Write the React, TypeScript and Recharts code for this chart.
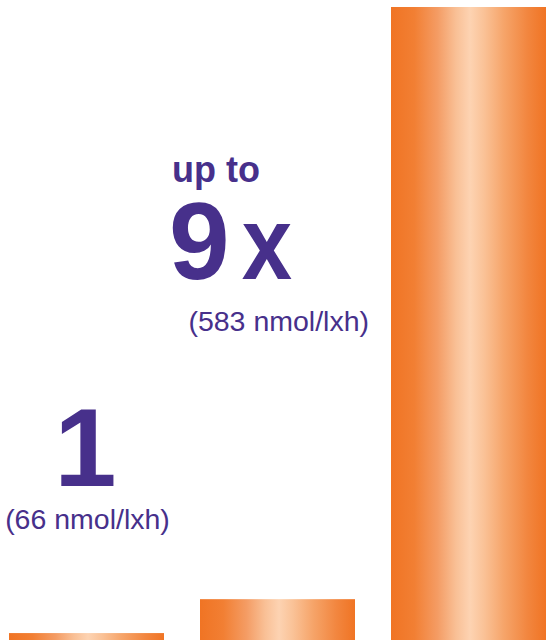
import React from 'react';
import { BarChart, Bar, XAxis, YAxis } from 'recharts';

const categories = ['Baseline', 'Middle', 'Peak'];
const values = [66, 94, 583];
const labelPrefix = ['', '', 'up to'];
const labelBig = ['1', '', '9'];
const labelSuffix = ['', '', 'x'];
const labelSub = ['(66 nmol/lxh)', '', '(583 nmol/lxh)'];

const data = categories.map((c, i) => ({ name: c, value: values[i] }));

const PURPLE = '#47308B';
const FONT = '"Liberation Sans", Arial, Helvetica, sans-serif';

const BarShape = (props: any) => {
  const { x, y, width, height, index } = props;
  const cx = x + width / 2;
  return (
    <g>
      <rect x={x} y={y} width={width} height={height} fill="url(#barGrad)" />
      {index === 0 && (
        <g fontFamily={FONT} fill={PURPLE}>
          <text x={cx - 1} y={y - 147} textAnchor="middle" fontSize={112} fontWeight="bold">
            {labelBig[index]}
          </text>
          <text x={cx + 1} y={y - 104} textAnchor="middle" fontSize={28.5}>
            {labelSub[index]}
          </text>
        </g>
      )}
      {index === 2 && (
        <g fontFamily={FONT} fill={PURPLE}>
          <text x={x - 219} y={y + 175} textAnchor="start" fontSize={36} fontWeight="bold">
            {labelPrefix[index]}
          </text>
          <text x={x - 222} y={y + 272} textAnchor="start" fontSize={109} fontWeight="bold">
            {labelBig[index]}
          </text>
          <g transform={`translate(${x - 99},${y + 272}) scale(0.87,1)`}>
            <text x={0} y={0} textAnchor="end" fontSize={104} fontWeight="bold">
              {labelSuffix[index]}
            </text>
          </g>
          <text x={x - 22} y={y + 324} textAnchor="end" fontSize={28.5}>
            {labelSub[index]}
          </text>
        </g>
      )}
    </g>
  );
};

export default function App() {
  return (
    <div
      style={{
        position: 'fixed',
        top: 0,
        left: 0,
        width: 552,
        height: 640,
        overflow: 'hidden',
        background: '#ffffff',
      }}
    >
      <div style={{ position: 'absolute', left: -9, top: 0 }}>
        <BarChart
          width={573}
          height={740}
          data={data}
          margin={{ top: 7, right: 0, bottom: 27, left: 0 }}
        >
          <defs>
            <linearGradient id="barGrad" x1="0" y1="0" x2="1" y2="0">
              <stop offset="0%" stopColor="#F07424" />
              <stop offset="15%" stopColor="#F27F33" />
              <stop offset="30%" stopColor="#F49C64" />
              <stop offset="42%" stopColor="#F9C096" />
              <stop offset="51%" stopColor="#FDD3B2" />
              <stop offset="60%" stopColor="#FAC297" />
              <stop offset="73%" stopColor="#F6A469" />
              <stop offset="88%" stopColor="#F2863F" />
              <stop offset="100%" stopColor="#F07424" />
            </linearGradient>
          </defs>
          <XAxis dataKey="name" hide />
          <YAxis hide domain={[0, 'dataMax']} />
          <Bar dataKey="value" barSize={155} isAnimationActive={false} shape={BarShape} />
        </BarChart>
      </div>
    </div>
  );
}
